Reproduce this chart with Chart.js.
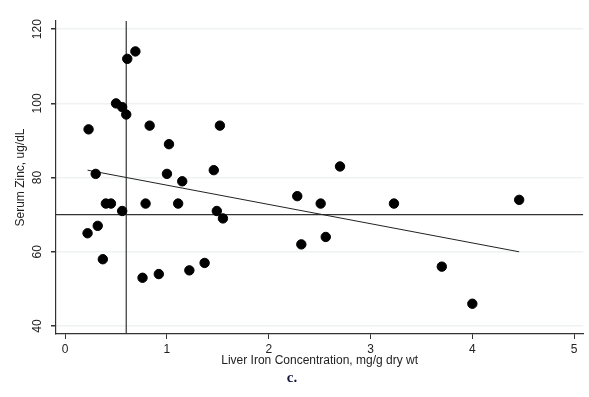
<!DOCTYPE html>
<html>
<head>
<meta charset="utf-8">
<script src="https://cdn.jsdelivr.net/npm/chart.js@4/dist/chart.umd.min.js"></script>
<style>
  html, body { margin: 0; padding: 0; background: #fff; }
  #wrap { width: 589px; height: 397px; }
</style>
</head>
<body>
<div id="wrap"><canvas id="myChart" width="589" height="397"></canvas></div>
<script>
// liver iron (mg/g dry wt) vs serum zinc (ug/dL)
const ironX = [0.23, 0.30, 0.50, 0.56, 0.60, 0.61, 0.69, 0.83, 1.02, 1.00, 1.15, 1.46, 1.52, 2.28,
               0.22, 0.32, 0.37, 0.40, 0.45, 0.56, 0.76, 0.79, 0.92, 1.11, 1.22, 1.37, 1.49, 1.55,
               2.32, 2.70, 2.51, 3.23, 4.46, 2.56, 3.70, 4.00];
const zincY = [93, 81, 100, 99, 97, 112, 114, 94, 89, 81, 79, 82, 94, 75,
               65, 67, 58, 73, 73, 71, 53, 73, 54, 73, 55, 57, 71, 69,
               62, 83, 73, 73, 74, 64, 56, 46];

// fitted regression line
const fitX = [0.22, 4.46];
const fitY = [82, 60];

// reference lines
const refIron = 0.6;
const refZinc = 70;

const xTicks = [0, 1, 2, 3, 4, 5];
const yTicks = [40, 60, 80, 100, 120];
const xMin = -0.09, xMax = 5.09;
const yMin = 37.85, yMax = 122.2;

const axisColor = '#333';

// y tick labels are drawn rotated, like the original
const rotatedYTicks = {
    id: 'rotatedYTicks',
    afterDraw(chart) {
        const ctx = chart.ctx;
        const y = chart.scales.y;
        ctx.save();
        ctx.font = '12px "Liberation Sans", Arial, sans-serif';
        ctx.fillStyle = '#222';
        ctx.textAlign = 'center';
        ctx.textBaseline = 'middle';
        yTicks.forEach(v => {
            ctx.save();
            ctx.translate(38, y.getPixelForValue(v));
            ctx.rotate(-Math.PI / 2);
            ctx.fillText(String(v), 0, 0);
            ctx.restore();
        });
        ctx.restore();
    }
};

const data = {
    datasets: [{
            label: 'points',
            data: ironX.map((x, i) => ({x: x, y: zincY[i]})),
            backgroundColor: '#000',
            borderColor: '#000',
            pointRadius: 4.7,
            showLine: false,
            order: 0
        }, {
            label: 'fit',
            data: fitX.map((x, i) => ({x: x, y: fitY[i]})),
            borderColor: '#222',
            borderWidth: 1,
            pointRadius: 0,
            showLine: true,
            order: 1
        }, {
            label: 'ref iron',
            data: [{x: refIron, y: yMin}, {x: refIron, y: yMax}],
            borderColor: axisColor,
            borderWidth: 1.2,
            pointRadius: 0,
            showLine: true,
            order: 2
        }, {
            label: 'ref zinc',
            data: [{x: xMin, y: refZinc}, {x: xMax, y: refZinc}],
            borderColor: axisColor,
            borderWidth: 1.2,
            pointRadius: 0,
            showLine: true,
            order: 2
        }]
};

const config = {
    type: 'scatter',
    data: data,
    options: {
        responsive: false,
        animation: false,
        layout: {
            padding: {left: 0, top: 21, right: 5, bottom: 0}
        },
        plugins: {
            legend: {display: false},
            tooltip: {enabled: false},
            title: {
                display: true,
                position: 'bottom',
                text: 'c.',
                color: '#1a1a40',
                font: {family: '"Liberation Serif", "Times New Roman", serif', size: 15, weight: 'bold'},
                padding: {top: 0, bottom: 10}
            }
        },
        scales: {
            x: {
                type: 'linear',
                min: xMin,
                max: xMax,
                afterBuildTicks: (scale) => { scale.ticks = xTicks.map(v => ({value: v})); },
                afterFit: (scale) => { scale.height = 35; },
                border: {color: axisColor, width: 1.2},
                grid: {
                    drawOnChartArea: false,
                    tickColor: axisColor,
                    tickLength: 5
                },
                ticks: {
                    color: '#222',
                    padding: 3,
                    font: {family: '"Liberation Sans", Arial, sans-serif', size: 12}
                },
                title: {
                    display: true,
                    text: 'Liver Iron Concentration, mg/g dry wt',
                    color: '#222',
                    font: {family: '"Liberation Sans", Arial, sans-serif', size: 12},
                    padding: {top: 0, bottom: 1}
                }
            },
            y: {
                type: 'linear',
                min: yMin,
                max: yMax,
                afterBuildTicks: (scale) => { scale.ticks = yTicks.map(v => ({value: v})); },
                afterFit: (scale) => { scale.width = 56; },
                border: {color: axisColor, width: 1.2},
                grid: {
                    color: '#eef3f2',
                    lineWidth: 1.5,
                    tickColor: axisColor,
                    tickLength: 5
                },
                ticks: {display: false},
                title: {
                    display: true,
                    text: 'Serum Zinc, ug/dL',
                    color: '#222',
                    font: {family: '"Liberation Sans", Arial, sans-serif', size: 12},
                    padding: {top: 13, bottom: 0}
                }
            }
        }
    },
    plugins: [rotatedYTicks]
};

var ctx = document.getElementById('myChart');
const myChart = new Chart(ctx, config);
</script>
</body>
</html>
